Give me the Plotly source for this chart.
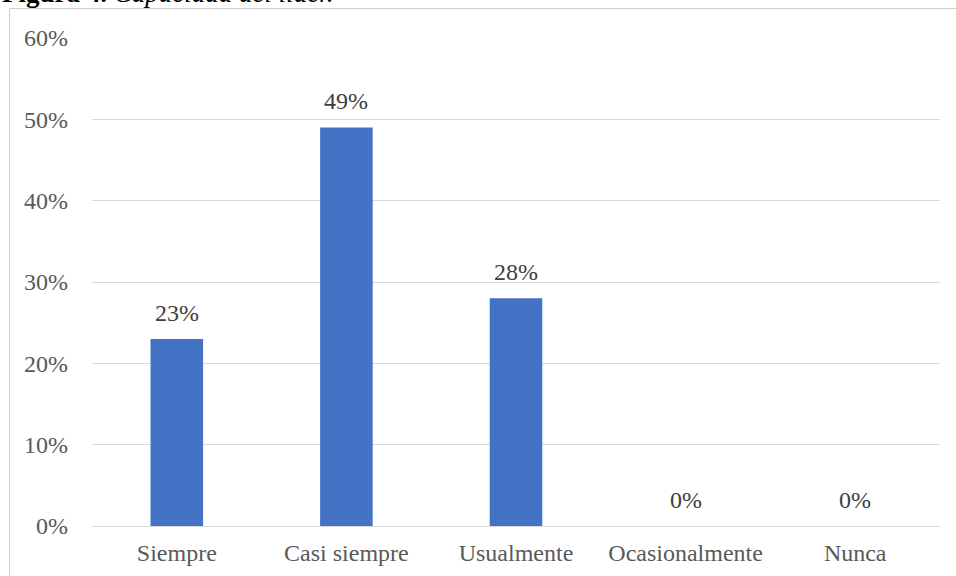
import plotly.graph_objects as go

# Survey responses: share of each answer
categories = ["Siempre", "Casi siempre", "Usualmente", "Ocasionalmente", "Nunca"]
values = [23, 49, 28, 0, 0]
y_ticks = [0, 10, 20, 30, 40, 50, 60]
y_tick_labels = [f"{v}%" for v in y_ticks]

FONT = "Liberation Serif"
FS = 24
W, H = 956, 576
ML, MR, MT, MB = 92, 16, 38, 50
PW, PH = W - ML - MR, H - MT - MB


def px_x(p):
    return (p - ML) / PW


def px_y(p):
    return (H - MB - p) / PH


fig = go.Figure()
fig.add_trace(go.Bar(
    x=categories, y=values,
    marker=dict(color="#4472C4", line=dict(width=0)),
    width=0.31,
    hoverinfo="x+y",
))

# value labels above each bar
for c, v in zip(categories, values):
    fig.add_annotation(
        x=c, y=v, text=f"{v}%", showarrow=False,
        yanchor="bottom", yshift=11,
        font=dict(family=FONT, size=FS, color="#404040"),
    )

# caption above the chart frame
fig.add_annotation(
    xref="paper", yref="paper", x=px_x(0), y=px_y(10),
    xanchor="left", yanchor="bottom", showarrow=False,
    text="<b>Figura 4.</b> <i>Capacidad del líder.</i>",
    font=dict(family=FONT, size=27, color="#000000"),
)

# chart frame
fig.add_shape(
    type="rect", xref="paper", yref="paper",
    x0=px_x(9.5), x1=px_x(W + 10), y0=px_y(H + 10), y1=px_y(8.5),
    line=dict(color="#D0D0D0", width=1), fillcolor="rgba(0,0,0,0)",
    layer="below",
)

fig.update_layout(
    width=W, height=H,
    margin=dict(l=ML, r=MR, t=MT, b=MB),
    paper_bgcolor="white", plot_bgcolor="white",
    showlegend=False,
    bargap=0.69,
    font=dict(family=FONT, size=FS, color="#595959"),
    xaxis=dict(
        showgrid=False, showline=False, zeroline=False, ticks="",
        tickfont=dict(family=FONT, size=FS, color="#595959"),
        ticklabelstandoff=10, automargin=False,
    ),
    yaxis=dict(
        range=[0, 60], tickvals=y_ticks, ticktext=y_tick_labels,
        showgrid=True, gridcolor="#D9D9D9", gridwidth=1,
        zeroline=True, zerolinecolor="#D9D9D9", zerolinewidth=1,
        showline=False, ticks="",
        tickfont=dict(family=FONT, size=FS, color="#595959"),
        ticklabelstandoff=23, automargin=False,
    ),
)

fig.write_html("out.html")
